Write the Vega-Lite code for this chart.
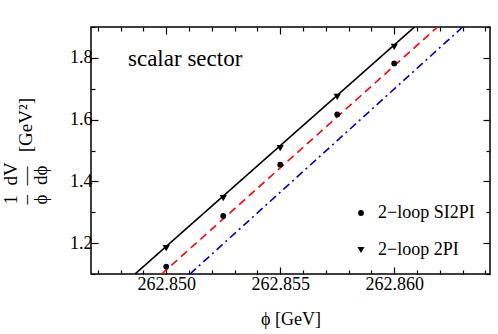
{
  "$schema": "https://vega.github.io/schema/vega-lite/v6.json",
  "width": 399,
  "height": 247,
  "autosize": {"type": "none"},
  "padding": {"left": 91, "top": 27, "right": 8, "bottom": 60},
  "background": "white",
  "title": {"text": "scalar sector", "anchor": "start", "frame": "group", "dx": 37, "offset": -71, "baseline": "alphabetic", "fontSize": 23, "font": "Liberation Serif", "fontWeight": "normal", "color": "black"},
  "config": {
    "view": {"stroke": "black", "strokeWidth": 1.5},
    "font": "Liberation Serif",
    "axis": {"grid": false, "domain": false, "tickColor": "black", "tickWidth": 1.2, "labelColor": "black", "titleColor": "black", "labelFont": "Liberation Serif", "titleFont": "Liberation Serif", "labelFontSize": 18, "titleFontSize": 18, "titleFontWeight": "normal"}
  },
  "datasets": {
    "lines": [
      {"x": 262.84863, "y": 1.1, "series": "2PI fit"},
      {"x": 262.86089, "y": 1.9, "series": "2PI fit"},
      {"x": 262.8498, "y": 1.1, "series": "SI2PI fit"},
      {"x": 262.8619, "y": 1.9, "series": "SI2PI fit"},
      {"x": 262.85104, "y": 1.1, "series": "other"},
      {"x": 262.863, "y": 1.9, "series": "other"}
    ],
    "pts": [
      {"x": 262.85, "y": 1.124, "series": "2−loop SI2PI"},
      {"x": 262.8525, "y": 1.288, "series": "2−loop SI2PI"},
      {"x": 262.855, "y": 1.454, "series": "2−loop SI2PI"},
      {"x": 262.8575, "y": 1.617, "series": "2−loop SI2PI"},
      {"x": 262.86, "y": 1.782, "series": "2−loop SI2PI"},
      {"x": 262.85, "y": 1.184, "series": "2−loop 2PI"},
      {"x": 262.8525, "y": 1.346, "series": "2−loop 2PI"},
      {"x": 262.855, "y": 1.508, "series": "2−loop 2PI"},
      {"x": 262.8575, "y": 1.674, "series": "2−loop 2PI"},
      {"x": 262.86, "y": 1.836, "series": "2−loop 2PI"}
    ]
  },
  "layer": [
    {
      "data": {"name": "lines"},
      "mark": {"type": "line", "clip": true, "strokeWidth": 1.6},
      "encoding": {
        "x": {"field": "x", "type": "quantitative", "scale": {"domain": [262.8467, 262.8642], "zero": false, "nice": false},
          "axis": {"orient": "bottom", "values": [262.847, 262.848, 262.849, 262.85, 262.851, 262.852, 262.853, 262.854, 262.855, 262.856, 262.857, 262.858, 262.859, 262.86, 262.861, 262.862, 262.863, 262.864],
            "labelExpr": "round(datum.value*1000) % 5 == 0 ? format(datum.value, '.3f') : ''",
            "tickSize": {"condition": {"test": "round(datum.value*1000) % 5 == 0", "value": -7}, "value": -4},
            "labelPadding": 8, "labelFlush": false, "labelOverlap": false,
            "title": "ϕ [GeV]", "titlePadding": 14}},
        "y": {"field": "y", "type": "quantitative", "scale": {"domain": [1.1, 1.9], "zero": false, "nice": false},
          "axis": {"orient": "left", "values": [1.1, 1.2, 1.3, 1.4, 1.5, 1.6, 1.7, 1.8, 1.9],
            "labelExpr": "round(datum.value*10) % 2 == 0 ? format(datum.value, '.1f') : ''",
            "tickSize": {"condition": {"test": "round(datum.value*10) % 2 == 0", "value": -7}, "value": -4},
            "labelPadding": 6, "labelFlush": false, "labelOverlap": false,
            "title": ["1\u00a0\u00a0dV", "–\u00a0\u00a0—\u00a0\u00a0\u00a0[GeV²]", "ϕ\u00a0\u00a0dϕ"], "titleAngle": 270, "titleAlign": "left", "titleX": -81, "titleY": 177, "titleBaseline": "middle", "titleLineHeight": 15, "titleFontSize": 19}},
        "color": {"field": "series", "type": "nominal", "scale": {"domain": ["2PI fit", "SI2PI fit", "other"], "range": ["#000000", "#ff0000", "#0000c0"]}, "legend": null},
        "strokeDash": {"field": "series", "type": "nominal", "scale": {"domain": ["2PI fit", "SI2PI fit", "other"], "range": [[1, 0], [8, 5], [8, 4, 2, 4]]}, "legend": null}
      }
    },
    {
      "data": {"name": "pts"},
      "mark": {"type": "point", "filled": true, "opacity": 1, "color": "black"},
      "encoding": {
        "x": {"field": "x", "type": "quantitative",
          "axis": {"orient": "top", "values": [262.847, 262.848, 262.849, 262.85, 262.851, 262.852, 262.853, 262.854, 262.855, 262.856, 262.857, 262.858, 262.859, 262.86, 262.861, 262.862, 262.863, 262.864],
            "labels": false, "title": null,
            "tickSize": {"condition": {"test": "round(datum.value*1000) % 5 == 0", "value": -7}, "value": -4}}},
        "y": {"field": "y", "type": "quantitative",
          "axis": {"orient": "right", "values": [1.1, 1.2, 1.3, 1.4, 1.5, 1.6, 1.7, 1.8, 1.9], "labels": false, "title": null,
            "tickSize": {"condition": {"test": "round(datum.value*10) % 2 == 0", "value": -7}, "value": -4}}},
        "shape": {"field": "series", "type": "nominal", "scale": {"domain": ["2−loop SI2PI", "2−loop 2PI"], "range": ["circle", "triangle-down"]},
          "legend": {"title": null, "orient": "bottom-right", "offset": 15, "labelFont": "Liberation Serif", "labelFontSize": 18, "labelColor": "black", "symbolFillColor": "black", "symbolStrokeColor": "black", "rowPadding": 19, "labelOffset": 8}},
        "size": {"field": "series", "type": "nominal", "scale": {"domain": ["2−loop SI2PI", "2−loop 2PI"], "range": [34, 52]},
          "legend": {"title": null, "orient": "bottom-right", "offset": 15, "labelFont": "Liberation Serif", "labelFontSize": 18, "labelColor": "black", "symbolFillColor": "black", "symbolStrokeColor": "black", "rowPadding": 19, "labelOffset": 8}}
      }
    }
  ],
  "resolve": {"axis": {"x": "independent", "y": "independent"}}
}
